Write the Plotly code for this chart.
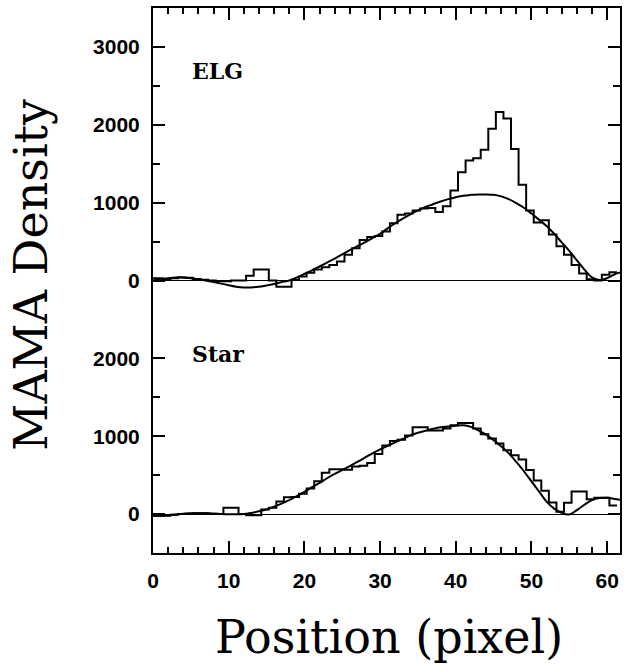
import plotly.graph_objects as go

# ---------------- data ----------------
# histogram bins (left edges in pixel units) and values
bin_edges = [0.0] + [k + 0.3 for k in range(1, 62)]

elg_hist = [30, 20, 30, 40, 35, 20, 10, 0, -10, -10, 0, 0, 60, 140, 140, 0, -80, -80,
            10, 50, 100, 140, 170, 200, 245, 330, 415, 520, 560, 570, 630, 735, 845,
            860, 900, 925, 930, 880, 955, 1155, 1390, 1540, 1570, 1680, 1950, 2165,
            2080, 1690, 1230, 900, 745, 775, 590, 440, 330, 200, 90, 15, 0, 75, 105]

star_hist = [-20, -20, -10, 0, 5, 10, 10, 5, 0, 80, 80, 0, -15, -15, 60, 80, 160, 215,
             220, 260, 330, 420, 530, 575, 575, 570, 610, 620, 655, 770, 880, 940, 955,
             1010, 1115, 1115, 1075, 1075, 1100, 1140, 1170, 1170, 1100, 1025, 970, 905,
             820, 755, 700, 565, 430, 300, 150, 30, 145, 290, 290, 190, 210, 210, 110]

# fitted profiles
fit_x = list(range(0, 63))
elg_fit = [0, 15, 30, 40, 40, 30, 15, 0, -20, -40, -60, -80, -90, -90, -80, -65, -45, -20,
           0, 40, 85, 130, 180, 230, 280, 335, 390, 440, 490, 545, 600, 670, 735, 795,
           850, 900, 945, 980, 1015, 1045, 1070, 1090, 1100, 1105, 1105, 1100, 1080,
           1045, 995, 935, 860, 780, 700, 600, 490, 380, 260, 140, 40, 5, 30, 80, 110]
star_fit = [-20, -20, -15, -5, 5, 10, 12, 10, 5, 0, -3, -3, 0, 15, 35, 60, 95, 135, 180,
            230, 285, 345, 400, 460, 515, 565, 615, 670, 725, 780, 830, 875, 920, 965,
            1010, 1045, 1070, 1095, 1115, 1125, 1135, 1140, 1120, 1075, 1020, 950, 870,
            780, 670, 550, 420, 290, 160, 70, 15, -5, 50, 120, 180, 205, 210, 195, 180]

x_ticks = [0, 10, 20, 30, 40, 50, 60]
top_ticks = [0, 1000, 2000, 3000]
bot_ticks = [0, 1000, 2000]
panel_labels = ["ELG", "Star"]

# ---------------- figure ----------------
def step_vals(vals):
    return vals + [vals[-1]]

fig = go.Figure()
line_style = dict(color="black", width=2)

fig.add_trace(go.Scatter(x=bin_edges, y=step_vals(elg_hist), mode="lines",
                         line=dict(shape="hv", **line_style), xaxis="x2", yaxis="y2"))
fig.add_trace(go.Scatter(x=fit_x, y=elg_fit, mode="lines",
                         line=dict(shape="spline", **line_style), xaxis="x2", yaxis="y2"))
fig.add_trace(go.Scatter(x=bin_edges, y=step_vals(star_hist), mode="lines",
                         line=dict(shape="hv", **line_style), xaxis="x", yaxis="y"))
fig.add_trace(go.Scatter(x=fit_x, y=star_fit, mode="lines",
                         line=dict(shape="spline", **line_style), xaxis="x", yaxis="y"))

tick_font = dict(family="Liberation Sans", size=21, color="black", weight="bold")
minor_x = dict(ticks="inside", dtick=2, tick0=0, ticklen=6, tickwidth=1.5, tickcolor="black")
minor_y = dict(ticks="inside", dtick=500, tick0=0, ticklen=7, tickwidth=1.5, tickcolor="black")

common_x = dict(range=[0, 61.7], showline=True, linewidth=2, linecolor="black",
                ticks="inside", ticklen=12, tickwidth=1.5, tickcolor="black",
                tickvals=x_ticks, minor=minor_x, showgrid=False, zeroline=False)
common_y = dict(showline=True, linewidth=2, linecolor="black", mirror="ticks",
                ticks="inside", ticklen=12, tickwidth=1.5, tickcolor="black",
                minor=minor_y, showgrid=False, zeroline=True, zerolinecolor="black",
                zerolinewidth=1.2, tickfont=tick_font, ticklabelstandoff=7)

fig.update_layout(
    width=624, height=665,
    margin=dict(l=153, r=2, t=8, b=112),
    paper_bgcolor="white", plot_bgcolor="white",
    showlegend=False,
    xaxis=dict(domain=[0, 1], anchor="y", tickfont=tick_font, ticklabelstandoff=8, **common_x),
    xaxis2=dict(domain=[0, 1], anchor="y2", matches="x", side="top",
                showticklabels=False, **common_x),
    yaxis=dict(domain=[0, 3 / 7], anchor="x", range=[-500, 2500],
               tickvals=bot_ticks, **common_y),
    yaxis2=dict(domain=[3 / 7, 1], anchor="x2", range=[-500, 3500],
                tickvals=top_ticks, **common_y),
)

label_font = dict(family="DejaVu Serif", size=22, color="black", weight="bold")
fig.add_annotation(text=panel_labels[0], x=4.9, y=2690, xref="x2", yref="y2",
                   xanchor="left", yanchor="middle", showarrow=False, font=label_font)
fig.add_annotation(text=panel_labels[1], x=4.9, y=2050, xref="x", yref="y",
                   xanchor="left", yanchor="middle", showarrow=False, font=label_font)

title_font = dict(family="DejaVu Serif", size=46, color="black")
fig.add_annotation(text="MAMA Density", x=-0.262, y=0.51, xref="paper", yref="paper",
                   textangle=-90, xanchor="center", yanchor="middle", showarrow=False,
                   font=title_font)
fig.add_annotation(text="Position (pixel)", x=0.505, y=-0.155, xref="paper", yref="paper",
                   xanchor="center", yanchor="middle", showarrow=False, font=title_font)

fig.write_html("out.html", config={"displayModeBar": False},
               post_script="document.body.style.margin='0px';")
